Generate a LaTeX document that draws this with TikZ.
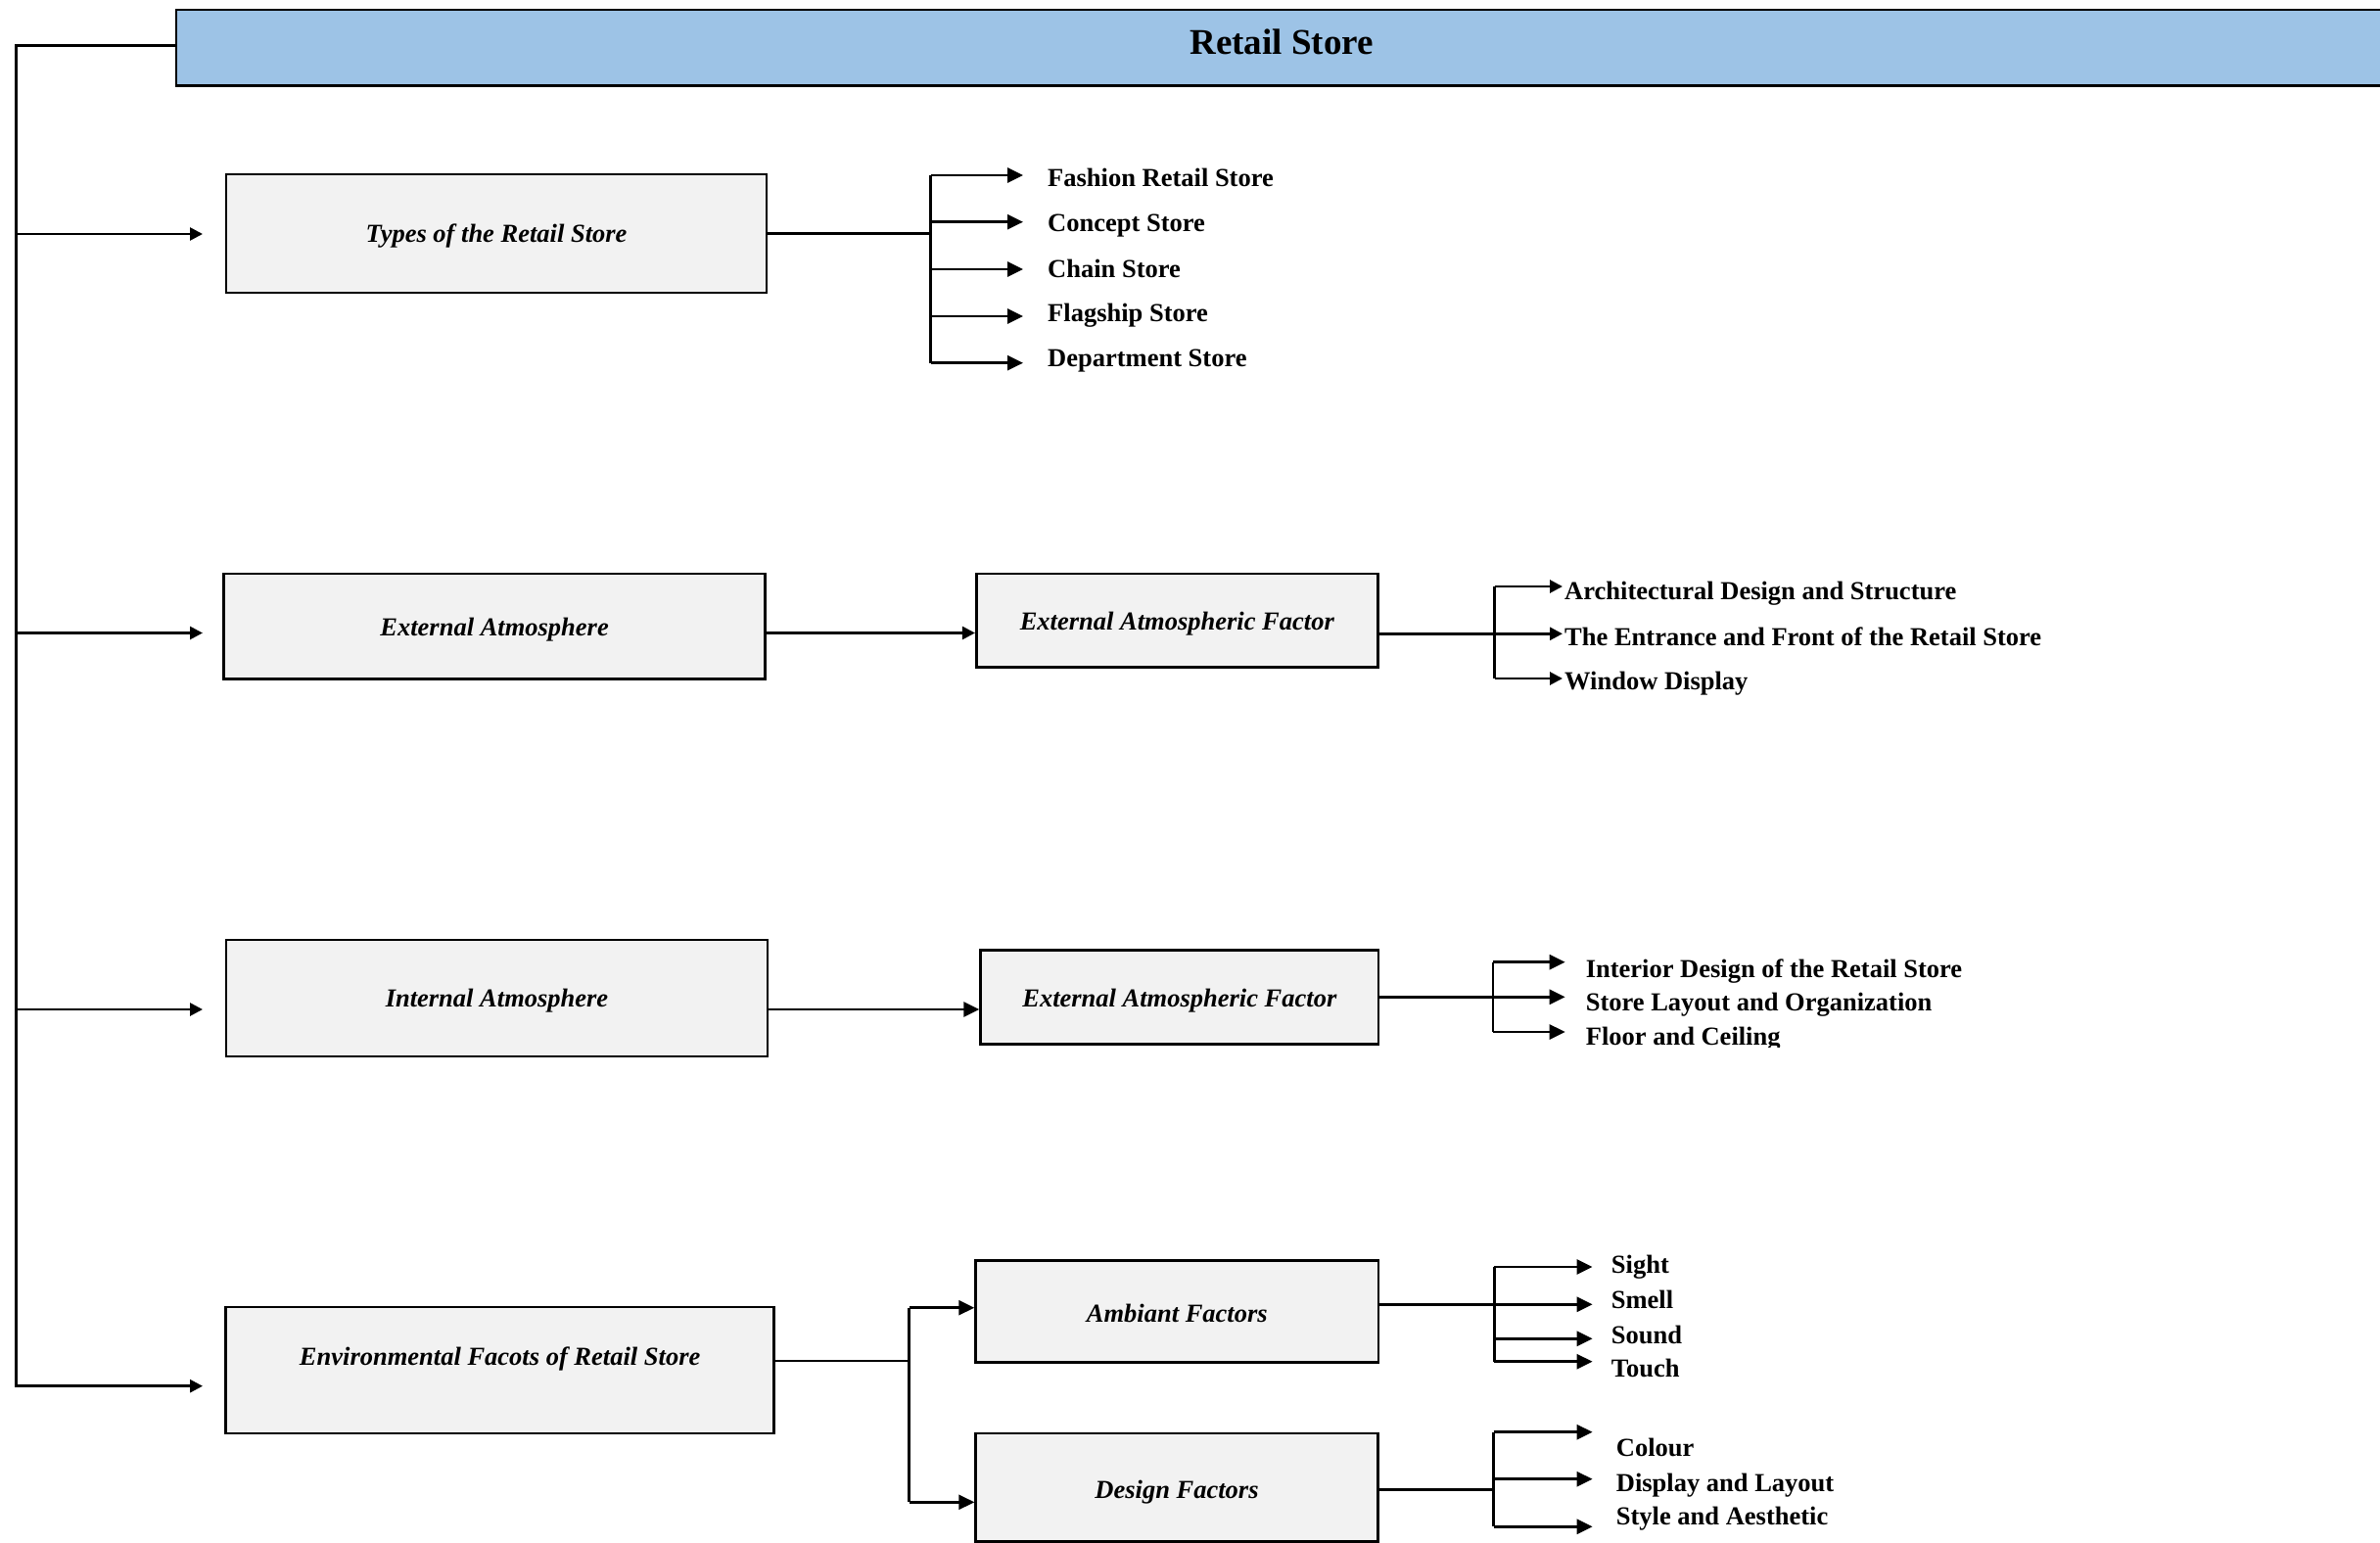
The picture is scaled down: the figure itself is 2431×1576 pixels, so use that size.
\documentclass[tikz,border=0pt]{standalone}
\usepackage{fontspec}
\setmainfont{Liberation Serif}
\usetikzlibrary{arrows.meta}
\definecolor{titleblue}{RGB}{157,195,230}
\definecolor{boxgray}{RGB}{242,242,242}
\begin{document}
\begin{tikzpicture}[x=1pt,y=-1pt,
  ln/.style={line width=2.7pt},
  arr/.style={ln,-{Triangle[length=16pt,width=15pt]}},
  arrs/.style={ln,-{Triangle[length=13pt,width=13pt]}},
  box/.style={draw,line width=2.7pt,fill=boxgray,inner sep=0pt,
    font=\fontsize{26.5pt}{30pt}\selectfont\bfseries\itshape},
  item/.style={inner sep=0pt,anchor=base west,
    font=\fontsize{26.5pt}{30pt}\selectfont\bfseries}]

% page frame
\fill[white] (0,0) rectangle (2431,1576);
\useasboundingbox (0,0) rectangle (2431,1576);

% ---------- boxes ----------
\node[box,fill=titleblue,minimum width=2258pt,minimum height=77.3pt,
  text height=24.4pt,text depth=10.7pt,font=\fontsize{37pt}{40pt}\selectfont\bfseries]
  (title) at (1309,48.65) {Retail Store};

\node[box,minimum width=552pt,minimum height=121pt,text height=18.6pt,text depth=0pt]
  (types) at (507,238.5) {Types of the Retail Store};
\node[box,minimum width=553.4pt,minimum height=107.3pt,text height=19pt,text depth=0pt]
  (ea) at (505.1,639.65) {External Atmosphere};
\node[box,minimum width=410pt,minimum height=95.7pt,text height=19.9pt,text depth=0pt]
  (eaf) at (1202.3,633.85) {External Atmospheric Factor};
\node[box,minimum width=553pt,minimum height=119pt,text height=18.6pt,text depth=0pt]
  (ia) at (507.5,1019.5) {Internal Atmosphere};
\node[box,minimum width=406.4pt,minimum height=96.2pt,text height=20.4pt,text depth=0pt]
  (eafb) at (1204.8,1018.6) {External Atmospheric Factor};
\node[box,minimum width=559.7pt,minimum height=129pt,text height=0pt,text depth=9.4pt]
  (env) at (510.65,1399.5) {Environmental Facots of Retail Store};
\node[box,minimum width=411.4pt,minimum height=104pt,text height=21.6pt,text depth=0pt]
  (amb) at (1202.3,1339.7) {Ambiant Factors};
\node[box,minimum width=410.7pt,minimum height=110.5pt,text height=21.6pt,text depth=0pt]
  (des) at (1202,1519.25) {Design Factors};

% ---------- left spine ----------
\coordinate (sp0) at (16.5,46.7);
\coordinate (sp1) at (16.5,239);
\coordinate (sp2) at (16.5,646.5);
\coordinate (sp3) at (16.5,1031);
\coordinate (sp4) at (16.5,1415.7);
\coordinate (tipx) at (207,0);
\draw[arrs,line join=miter] (title.west |- sp0) -- (sp0) -- (sp4) -- (sp4 -| tipx);
\draw[arrs] (sp1) -- (sp1 -| tipx);
\draw[arrs] (sp2) -- (sp2 -| tipx);
\draw[arrs] (sp3) -- (sp3 -| tipx);

% ---------- types of store ----------
\coordinate (r1x) at (950.7,0);
\coordinate (r1t) at (1045,0);
\coordinate (r1a) at (0,179);
\coordinate (r1b) at (0,226.7);
\coordinate (r1c) at (0,275);
\coordinate (r1d) at (0,323);
\coordinate (r1e) at (0,370.7);
\draw[ln] (types.east) -- (types.east -| r1x);
\draw[ln] (r1x |- r1a) -- (r1x |- r1e);
\foreach \r in {r1a,r1b,r1c,r1d,r1e}
  \draw[arr] (r1x |- \r) -- (r1t |- \r);
\node[item] (fashion) at (1070,190) {Fashion Retail Store};
\node[item] (concept) at (1070,236) {Concept Store};
\node[item] (chain) at (1070,283) {Chain Store};
\node[item] (flag) at (1070,328) {Flagship Store};
\node[item] (dept) at (1070,374) {Department Store};

% ---------- external atmosphere ----------
\draw[arrs] (ea.east |- sp2) -- (eaf.west |- sp2);
\coordinate (r2x) at (1526.5,0);
\coordinate (r2t) at (1596,0);
\coordinate (r2a) at (0,599);
\coordinate (r2b) at (0,647.3);
\coordinate (r2c) at (0,693);
\draw[arrs] (eaf.east |- r2b) -- (r2t |- r2b);
\draw[ln] (r2x |- r2a) -- (r2x |- r2c);
\draw[arrs] (r2x |- r2a) -- (r2t |- r2a);
\draw[arrs] (r2x |- r2c) -- (r2t |- r2c);
\node[item] (arch) at (1598,612) {Architectural Design and Structure};
\node[item] (entr) at (1598,659) {The Entrance and Front of the Retail Store};
\node[item] (wind) at (1598,704) {Window Display};

% ---------- internal atmosphere ----------
\draw[arr] (ia.east |- sp3) -- (eafb.west |- sp3);
\coordinate (r3x) at (1525,0);
\coordinate (r3t) at (1598.7,0);
\coordinate (r3a) at (0,982.7);
\coordinate (r3b) at (0,1018.3);
\coordinate (r3c) at (0,1054);
\draw[arr] (eafb.east |- r3b) -- (r3t |- r3b);
\draw[ln] (r3x |- r3a) -- (r3x |- r3c);
\draw[arr] (r3x |- r3a) -- (r3t |- r3a);
\draw[arr] (r3x |- r3c) -- (r3t |- r3c);
\node[item] (inter) at (1619.6,998.3) {Interior Design of the Retail Store};
\node[item] (layout) at (1619.6,1032.7) {Store Layout and Organization};
\begin{scope}
  \clip (1600,1030) rectangle (2000,1069);
  \node[item] (floor) at (1619.6,1067) {Floor and Ceiling};
\end{scope}

% ---------- environmental factors ----------
\coordinate (r4x) at (928.6,0);
\coordinate (r4a) at (0,1335.7);
\coordinate (r4b) at (0,1390);
\coordinate (r4c) at (0,1534.3);
\draw[ln] (env.east |- r4b) -- (r4x |- r4b);
\draw[ln] (r4x |- r4a) -- (r4x |- r4c);
\draw[arr] (r4x |- r4a) -- (amb.west |- r4a);
\draw[arr] (r4x |- r4c) -- (des.west |- r4c);

% ambient factors
\coordinate (r5x) at (1526.3,0);
\coordinate (r5t) at (1626.6,0);
\coordinate (r5a) at (0,1294);
\coordinate (r5b) at (0,1332.3);
\coordinate (r5c) at (0,1367.3);
\coordinate (r5d) at (0,1390.7);
\draw[ln] (amb.east |- r5b) -- (r5x |- r5b);
\draw[ln] (r5x |- r5a) -- (r5x |- r5d);
\foreach \r in {r5a,r5b,r5c,r5d}
  \draw[arr] (r5x |- \r) -- (r5t |- \r);
\node[item] (sight) at (1645.7,1300) {Sight};
\node[item] (smell) at (1645.7,1336) {Smell};
\node[item] (sound) at (1645.7,1372) {Sound};
\node[item] (touch) at (1645.7,1406) {Touch};

% design factors
\coordinate (r6x) at (1525.5,0);
\coordinate (r6a) at (0,1462.7);
\coordinate (r6b) at (0,1510.7);
\coordinate (r6c) at (0,1559.3);
\coordinate (r6m) at (0,1521.7);
\draw[ln] (des.east |- r6m) -- (r6x |- r6m);
\draw[ln] (r6x |- r6a) -- (r6x |- r6c);
\foreach \r in {r6a,r6b,r6c}
  \draw[arr] (r6x |- \r) -- (r5t |- \r);
\node[item] (colour) at (1650.7,1487.5) {Colour};
\node[item] (disp) at (1650.7,1523) {Display and Layout};
\node[item] (style) at (1650.7,1557.5) {Style and Aesthetic};
\end{tikzpicture}
\end{document}
